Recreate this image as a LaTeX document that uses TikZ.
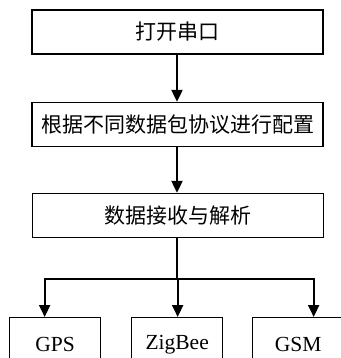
\documentclass[tikz,border=0pt]{standalone}
\usepackage{fontspec}
\setmainfont{Liberation Serif}
\newfontfamily\cjk{Noto Sans CJK SC}
\usetikzlibrary{arrows.meta,positioning}
\begin{document}
\begin{tikzpicture}[x=1pt,y=-1pt]
	\tikzset{stepbox/.style={draw, line width=1.3pt, minimum width=291pt, minimum height=44pt, inner sep=0pt, font=\fontsize{21pt}{25pt}\selectfont\cjk},
		leafbox/.style={draw, line width=1.3pt, minimum width=91pt, minimum height=54pt, inner sep=0pt, anchor=north west, font=\fontsize{21.5pt}{25pt}\selectfont},
		arr/.style={line width=2pt, -{Triangle[width=11pt,length=12pt]}}}
	\useasboundingbox (0,0) rectangle (340,358);
	
	\node[stepbox] (open) at (177.5,32) {打开串口};
	\node[stepbox] (config) at (177.5,124.5) {根据不同数据包协议进行配置};
	\node[stepbox] (parse) at (178,215.5) {数据接收与解析};
	\coordinate (split) at (177,279);
	\draw[arr] (open.south -| split) -- (config.north -| split);
	\draw[arr] (config.south -| split) -- (parse.north -| split);
	\draw[line width=2pt] (parse.south -| split) -- (split);
	\foreach \name/\x/\tx/\dx in {gps/9/GPS/-10.5, zig/131/ZigBee/0.5, gsm/252/GSM/15.5}{
		\node[leafbox] (\name) at (\x,317) {\tx};
		\draw[arr] (split) -| ([xshift=\dx pt]\name.north);
	}
\end{tikzpicture}
\end{document}
